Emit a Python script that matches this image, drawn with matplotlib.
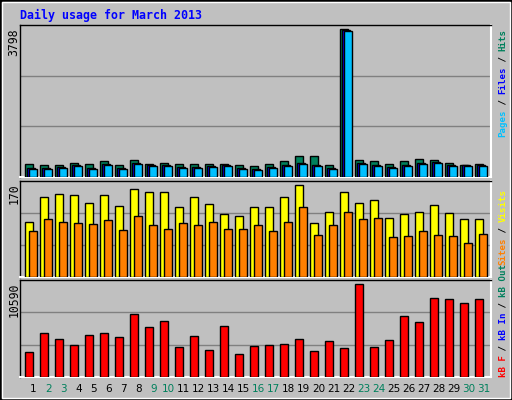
import matplotlib
matplotlib.use("Agg")
import matplotlib.pyplot as plt
from matplotlib.patches import Rectangle

days = list(range(1, 32))
weekend = [2, 3, 9, 10, 16, 17, 23, 24, 30, 31]
hits = [326,301,301,369,326,404,301,430,326,369,344,344,344,344,301,275,344,404,533,533,301,3798,430,404,344,404,472,447,369,301,326]
files = [240,240,265,300,240,325,240,370,315,300,265,265,280,300,240,215,265,300,370,315,240,3770,370,315,265,315,350,395,315,300,300]
pages = [215,215,240,275,215,300,215,345,290,275,240,240,258,275,215,190,240,275,345,290,215,3745,345,290,240,290,325,370,290,275,275]
visits = [102,148,152,150,137,150,130,161,157,157,128,148,135,115,113,128,128,148,170,100,120,157,137,141,109,115,120,133,117,107,106]
sites = [84,107,102,100,98,104,87,113,96,89,100,96,102,89,89,95,85,102,128,78,95,120,107,109,74,76,85,78,76,63,80]
kbytes = [2821,5025,4329,3633,4793,5025,4561,7112,5720,6416,3401,4677,3053,5836,2590,3517,3633,3749,4329,2937,4097,3285,10590,3401,4213,6880,6300,8967,8851,8387,8851]

W, H = 512, 400
fig = plt.figure(figsize=(5.12, 4.0), dpi=100, facecolor="#c0c0c0")
fig.patches.append(Rectangle((0, 0), 1, 1, transform=fig.transFigure, fill=False, ec="black", lw=2))
fig.patches.append(Rectangle((2/W, 2/H), 1-4/W, 1-4/H, transform=fig.transFigure, fill=False, ec="white", lw=1))

MONO = "DejaVu Sans Mono"
L, R = 20, 491
UNIT = 15.0
XMAX = (R - L) / UNIT

def mkax(top, bot):
    ax = fig.add_axes([L/W, 1-bot/H, (R-L)/W, (bot-top)/H])
    ax.set_facecolor("#c0c0c0")
    ax.set_xlim(0, XMAX)
    ax.set_xticks([]); ax.set_yticks([])
    for s in ("left", "top"):
        ax.spines[s].set_color("black"); ax.spines[s].set_linewidth(1)
    for s in ("right", "bottom"):
        ax.spines[s].set_color("white"); ax.spines[s].set_linewidth(1.5)
    return ax

def bars(ax, vals, off, color):
    xs = [i + off/UNIT for i in range(len(vals))]
    ax.bar(xs, vals, width=8/UNIT, align="edge", color=color, edgecolor="black", linewidth=1, zorder=3)

def grid(ax, top):
    for f in (1/3, 2/3):
        ax.axhline(top*f, color="#808080", lw=1, zorder=1)

ax1 = mkax(25, 177)
top1 = max(hits) * 152/148
ax1.set_ylim(0, top1); grid(ax1, top1)
bars(ax1, hits, 5, "#00805c"); bars(ax1, files, 7, "#0000ff"); bars(ax1, pages, 9, "#00c0ff")

ax2 = mkax(181, 277)
top2 = max(visits) * 96/92.4
ax2.set_ylim(0, top2); grid(ax2, top2)
bars(ax2, visits, 5, "#ffff00"); bars(ax2, sites, 9, "#ff8000")

ax3 = mkax(280, 377)
top3 = max(kbytes) * 95/91.3
ax3.set_ylim(0, top3); grid(ax3, top3)
bars(ax3, kbytes, 5, "#ff0000")

for i, d in enumerate(days):
    x = (L + UNIT*i + 13.5)/W
    fig.text(x, 1-389/H, str(d), ha="center", va="center", fontsize=7.5,
             color="#00805c" if d in weekend else "black")

for txt, y in ((str(max(hits)), 28), (str(max(visits)), 183), (str(max(kbytes)), 283)):
    fig.text(14/W, 1-y/H, txt, rotation=90, ha="center", va="top", fontsize=8.3, family=MONO)

fig.text(20/W, 1-15/H, "Daily usage for March 2013", ha="left", va="center",
         fontsize=8.4, family=MONO, weight="bold", color="#0000ff")

PITCH = 5.35
def rlabel(parts, ybottom):
    y = ybottom
    for t, c in parts:
        fig.text(503/W, 1-y/H, t, rotation=90, ha="center", va="bottom",
                 fontsize=6.6, family=MONO, weight="bold", color=c)
        y -= PITCH*len(t)

rlabel([("Pages", "#00c0ff"), (" / ", "black"), ("Files", "#0000ff"), (" / ", "black"), ("Hits", "#00805c")], 137)
rlabel([("Sites", "#ff8000"), (" / ", "black"), ("Visits", "#ffff00")], 265)
rlabel([("kB F", "#ff0000"), (" / ", "black"), ("kB In", "#0000ff"), (" / ", "black"), ("kB Out", "#00805c"), (" ", "black")], 377)

fig.savefig("out.png", dpi=100, facecolor=fig.get_facecolor())
